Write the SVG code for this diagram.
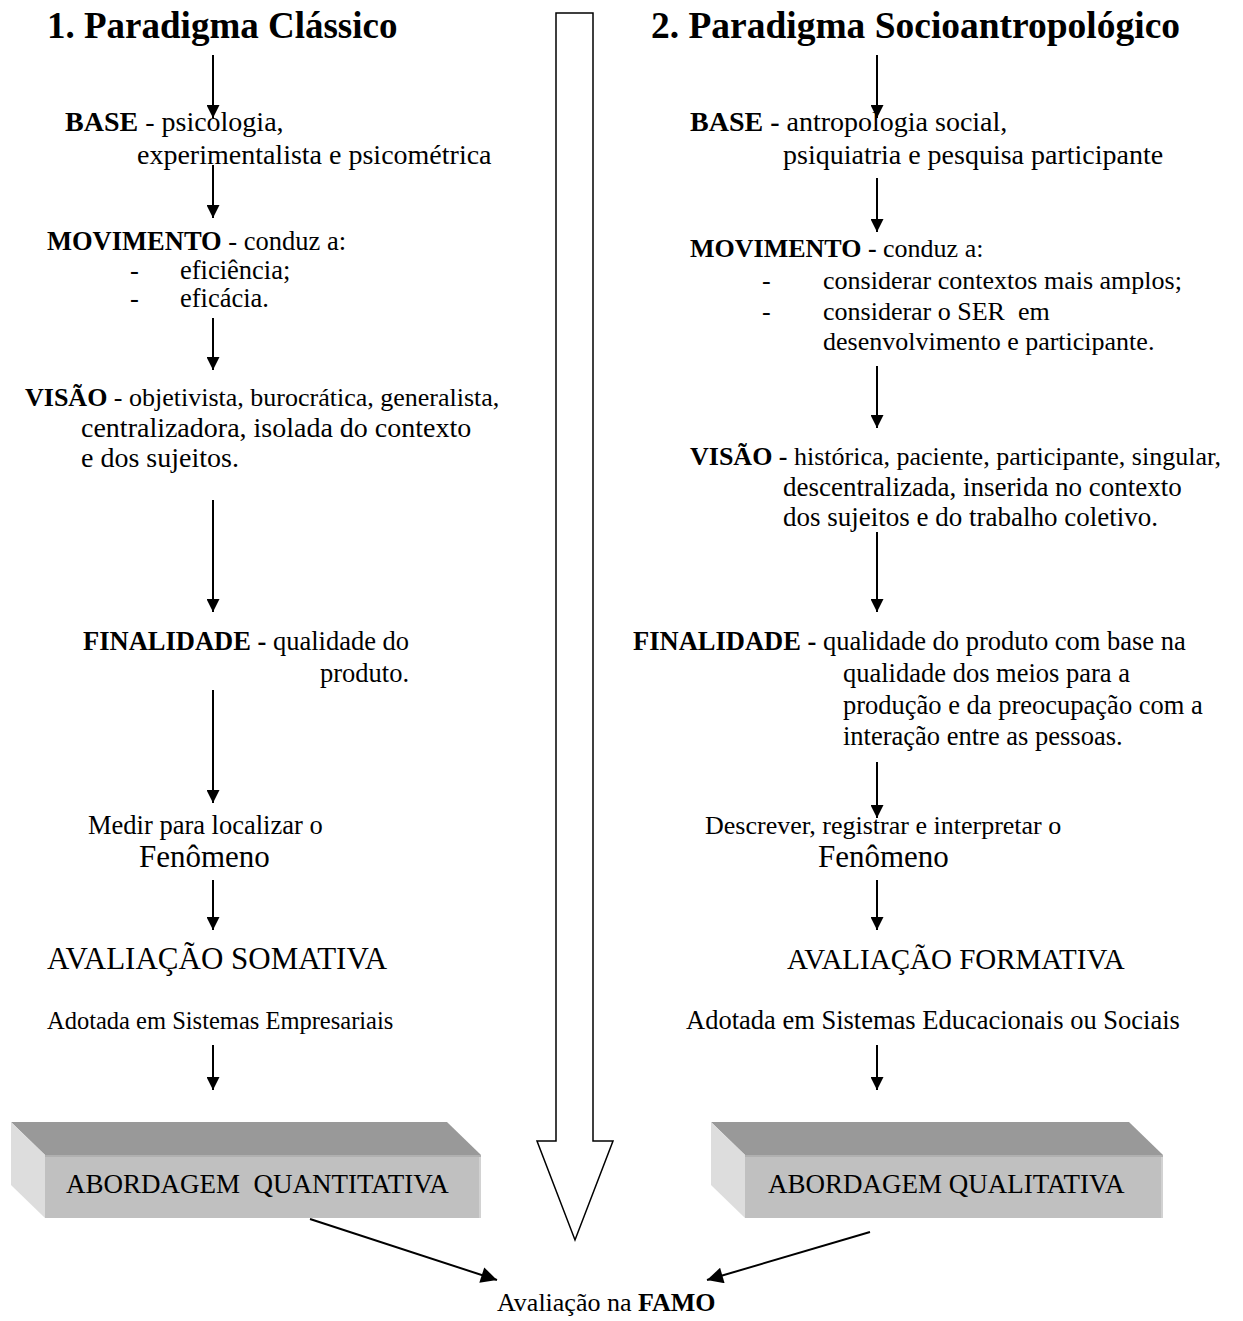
<svg xmlns="http://www.w3.org/2000/svg" width="1243" height="1321" viewBox="0 0 1243 1321">
<style>
text{font-family:"Liberation Serif","Times New Roman",serif;fill:#000;font-size:26px}
.t{font-size:37px;font-weight:bold}
.m{font-size:26.5px}
.l{font-size:28px}
.big{font-size:31px}
.bd{font-weight:bold}
.conn line{stroke:#000;stroke-width:2;marker-end:url(#ah)}
.conn line.d{marker-end:url(#ah2)}
.top{fill:#999}
.side{fill:#ddd}
.front{fill:#c0c0c0}
.edge{fill:#d2d2d2}
.rim{fill:#b0b0b0}
.bx{font-size:27px}
</style>
<defs>
<marker id="ah" viewBox="0 0 10 10" refX="10" refY="5" markerUnits="userSpaceOnUse" markerWidth="14" markerHeight="13" orient="auto">
<path d="M0,0 L10,5 L0,10 z" fill="#000"/>
</marker>
<marker id="ah2" viewBox="0 0 10 10" refX="10" refY="5" markerUnits="userSpaceOnUse" markerWidth="20" markerHeight="16" orient="auto">
<path d="M0,0 L10,5 L0,10 z" fill="#000"/>
</marker>
</defs>
<rect width="1243" height="1321" fill="#fff"/>

<g id="big-arrow">
<polygon points="556,13 593,13 593,1141 613,1141 575,1240 537,1141 556,1141" fill="#fff" stroke="#000" stroke-width="1.5"/>
</g>

<g class="conn" id="connectors">
<line x1="213" y1="55" x2="213" y2="118"/>
<line x1="213" y1="165" x2="213" y2="218"/>
<line x1="213" y1="318" x2="213" y2="370"/>
<line x1="213" y1="500" x2="213" y2="612"/>
<line x1="213" y1="690" x2="213" y2="803"/>
<line x1="213" y1="880" x2="213" y2="930"/>
<line x1="213" y1="1045" x2="213" y2="1090"/>
<line x1="877" y1="55" x2="877" y2="118"/>
<line x1="877" y1="178" x2="877" y2="232"/>
<line x1="877" y1="366" x2="877" y2="428"/>
<line x1="877" y1="532" x2="877" y2="612"/>
<line x1="877" y1="762" x2="877" y2="818"/>
<line x1="877" y1="880" x2="877" y2="930"/>
<line x1="877" y1="1045" x2="877" y2="1090"/>
<line class="d" x1="310" y1="1219" x2="497" y2="1280"/>
<line class="d" x1="870" y1="1232" x2="707" y2="1280"/>
</g>

<g id="title-1"><text class="t" x="47" y="38">1. Paradigma Clássico</text></g>
<g id="base-1"><text class="l" x="65" y="131"><tspan class="bd">BASE</tspan> - psicologia,</text>
<text class="l" x="137" y="164">experimentalista e psicométrica</text></g>
<g id="movimento-1"><text class="m" x="47" y="250"><tspan class="bd">MOVIMENTO</tspan> - conduz a:</text>
<text class="m" x="130" y="279">-</text><text class="m" x="180" y="279">eficiência;</text>
<text class="m" x="130" y="307">-</text><text class="m" x="180" y="307">eficácia.</text></g>
<g id="visao-1"><text x="25" y="406"><tspan class="bd">VISÃO</tspan> - objetivista, burocrática, generalista,</text>
<text class="l" x="81" y="437">centralizadora, isolada do contexto</text>
<text class="l" x="81" y="467">e dos sujeitos.</text></g>
<g id="finalidade-1"><text class="m" x="83" y="650"><tspan class="bd">FINALIDADE -</tspan> qualidade do</text>
<text class="m" x="320" y="682">produto.</text></g>
<g id="medir-1"><text class="m" x="88" y="834">Medir para localizar o</text>
<text class="big" x="139" y="867">Fenômeno</text></g>
<g id="avaliacao-1"><text class="big" x="47" y="969">AVALIAÇÃO SOMATIVA</text>
<text style="font-size:24.5px" x="47" y="1029">Adotada em Sistemas Empresariais</text></g>
<g id="box-1">
<polygon class="top" points="11,1122 447,1122 481,1155 45,1155"/>
<polygon class="side" points="11,1122 45,1155 45,1218 11,1185"/>
<rect class="front" x="45" y="1155" width="436" height="63"/>
<rect class="rim" x="45" y="1155" width="436" height="2"/>
<rect class="edge" x="479" y="1157" width="2" height="61"/>
<text class="bx" x="66" y="1193" xml:space="preserve">ABORDAGEM  QUANTITATIVA</text>
</g>

<g id="title-2"><text class="t" x="651" y="38" textLength="529" lengthAdjust="spacingAndGlyphs">2. Paradigma Socioantropológico</text></g>
<g id="base-2"><text class="l" x="690" y="131"><tspan class="bd">BASE -</tspan> antropologia social,</text>
<text class="l" x="783" y="164">psiquiatria e pesquisa participante</text></g>
<g id="movimento-2"><text x="690" y="257"><tspan class="bd">MOVIMENTO -</tspan> conduz a:</text>
<text x="762" y="289">-</text><text x="823" y="289">considerar contextos mais amplos;</text>
<text x="762" y="320">-</text><text x="823" y="320" xml:space="preserve">considerar o SER  em</text>
<text x="823" y="350">desenvolvimento e participante.</text></g>
<g id="visao-2"><text x="690" y="465"><tspan class="bd">VISÃO -</tspan> histórica, paciente, participante, singular,</text>
<text style="font-size:27px" x="783" y="496">descentralizada, inserida no contexto</text>
<text style="font-size:27px" x="783" y="526">dos sujeitos e do trabalho coletivo.</text></g>
<g id="finalidade-2"><text class="m" x="633" y="650"><tspan class="bd">FINALIDADE -</tspan> qualidade do produto com base na</text>
<text class="m" x="843" y="682">qualidade dos meios para a</text>
<text class="m" x="843" y="714">produção e da preocupação com a</text>
<text class="m" x="843" y="745">interação entre as pessoas.</text></g>
<g id="descrever-2"><text x="705" y="834">Descrever, registrar e interpretar o</text>
<text class="big" x="818" y="867">Fenômeno</text></g>
<g id="avaliacao-2"><text style="font-size:29px" x="787" y="969">AVALIAÇÃO FORMATIVA</text>
<text class="m" x="686" y="1029">Adotada em Sistemas Educacionais ou Sociais</text></g>
<g id="box-2">
<polygon class="top" points="711,1122 1129,1122 1163,1155 745,1155"/>
<polygon class="side" points="711,1122 745,1155 745,1218 711,1185"/>
<rect class="front" x="745" y="1155" width="418" height="63"/>
<rect class="rim" x="745" y="1155" width="418" height="2"/>
<rect class="edge" x="1161" y="1157" width="2" height="61"/>
<text class="bx" x="768" y="1193">ABORDAGEM QUALITATIVA</text>
</g>

<g id="famo"><text x="497" y="1311">Avaliação na <tspan class="bd">FAMO</tspan></text></g>
</svg>
